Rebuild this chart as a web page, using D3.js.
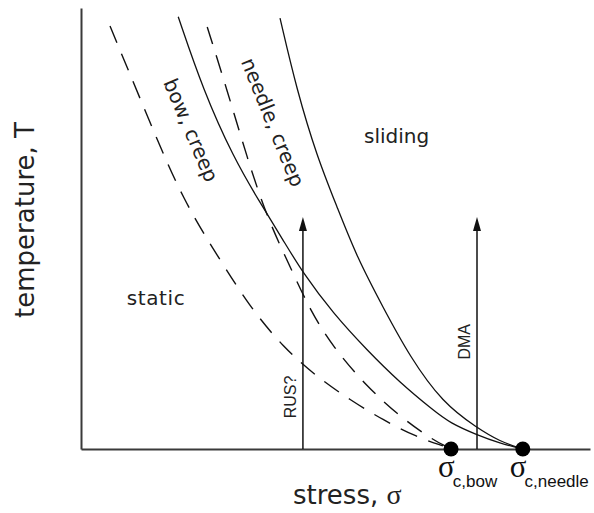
<!DOCTYPE html>
<html>
<head>
<meta charset="utf-8">
<script src="https://cdn.jsdelivr.net/npm/d3@7"></script>
<style>
  html, body { margin: 0; padding: 0; background: #fff; }
  svg { display: block; }
</style>
</head>
<body>
<svg id="chart" width="594" height="513"></svg>
<script>
// Schematic stress–temperature diagram (arbitrary units, 0–100 on both axes)

// Dashed boundaries, both ending at the bow critical stress
const dashedOuter = [
  [5.7, 95.9], [13.6, 73.9], [20.0, 56.5], [27.3, 42.9], [33.2, 32.2],
  [39.7, 23.1], [46.4, 16.3], [52.9, 11.1], [59.3, 6.6], [66.0, 2.7], [71.1, 0.7]
];
const dashedInner = [
  [24.8, 95.7], [28.7, 81.4], [32.6, 66.2], [36.5, 52.6], [41.1, 41.3],
  [45.0, 31.5], [49.5, 23.1], [56.2, 14.1], [62.7, 7.3], [69.2, 2.0], [71.9, 0.5]
];
// Solid boundaries, both ending at the needle critical stress
const solidBow = [
  [19.1, 98.0], [24.0, 81.4], [29.9, 66.2], [35.2, 55.8], [39.7, 47.4],
  [43.6, 39.9], [49.5, 30.8], [56.2, 22.4], [62.7, 15.0], [69.2, 8.8],
  [72.5, 5.9], [77.8, 3.2], [82.3, 1.3], [86.8, 0.0]
];
const solidNeedle = [
  [39.1, 97.7], [42.4, 81.4], [46.4, 66.2], [50.3, 54.9], [54.2, 43.5],
  [59.3, 32.2], [64.6, 20.9], [71.1, 10.4], [77.8, 4.8], [82.3, 1.7], [86.8, 0.0]
];

// Critical stresses marked on the stress axis
const criticalNames = ["c,bow", "c,needle"];
const criticalStress = [72.7, 86.8];

// Measurement paths (vertical arrows at fixed stress)
const probeNames = ["RUS?", "DMA"];
const probeStress = [43.6, 77.8];
const probeTop = [52.6, 52.6];

// Region labels
const regionNames = ["sliding", "static"];
const regionAt = [[55.6, 69.4], [9.0, 32.7]];
const bandNames = ["bow, creep", "needle, creep"];
const bandAt = [[21.6, 72.3], [37.7, 74.1]];
const bandAngle = [67, 68];

const svg = d3.select("#chart");
const x = d3.scaleLinear().domain([0, 100]).range([81, 590]);
const y = d3.scaleLinear().domain([0, 100]).range([449, 8]);

const sans = "'DejaVu Sans', sans-serif";

// Axes: bare lines, no ticks
const axisStyle = g => g.select(".domain").attr("stroke", "#3a3a3a").attr("stroke-width", 2);
svg.append("g")
  .attr("transform", `translate(0,${y(0)})`)
  .call(d3.axisBottom(x).tickValues([]).tickSizeOuter(0))
  .call(axisStyle);
svg.append("g")
  .attr("transform", `translate(${x(0)},0)`)
  .call(d3.axisLeft(y).tickValues([]).tickSizeOuter(0))
  .call(axisStyle);

// Boundary curves
const line = d3.line().x(d => x(d[0])).y(d => y(d[1])).curve(d3.curveBasis);
[dashedOuter, dashedInner].forEach(data => {
  svg.append("path").attr("d", line(data)).attr("fill", "none")
    .attr("stroke", "#111").attr("stroke-width", 1.4).attr("stroke-dasharray", "18,12");
});
[solidBow, solidNeedle].forEach(data => {
  svg.append("path").attr("d", line(data)).attr("fill", "none")
    .attr("stroke", "#111").attr("stroke-width", 1.3);
});

// Vertical arrows
probeStress.forEach((s, i) => {
  const px = x(s), top = y(probeTop[i]);
  svg.append("line").attr("x1", px).attr("x2", px).attr("y1", y(0)).attr("y2", top + 8)
    .attr("stroke", "#111").attr("stroke-width", 1.5);
  svg.append("path")
    .attr("d", `M${px},${top}L${px - 4},${top + 14}L${px + 4},${top + 14}Z`)
    .attr("fill", "#111");
});
const probeLabelAt = [[41.1, 11.8], [75.4, 24.3]];
probeNames.forEach((name, i) => {
  const [lx, ly] = probeLabelAt[i];
  svg.append("text")
    .attr("transform", `translate(${x(lx)},${y(ly)}) rotate(-90)`)
    .attr("text-anchor", "middle").attr("dominant-baseline", "central")
    .attr("font-family", "'Liberation Sans', Arial, sans-serif").attr("font-size", 16)
    .attr("fill", "#222").text(name);
});

// Critical stress points and labels
criticalStress.forEach((s, i) => {
  svg.append("circle").attr("cx", x(s)).attr("cy", y(0)).attr("r", 7.5).attr("fill", "#000");
  const t = svg.append("text").attr("x", x(s) - 13).attr("y", 477).attr("fill", "#111");
  t.append("tspan").attr("font-family", "'Liberation Serif', 'Times New Roman', serif")
    .attr("font-size", 31).text("σ");
  t.append("tspan").attr("font-family", "'Liberation Sans', Arial, sans-serif")
    .attr("font-size", 17).attr("dy", 10).attr("dx", -2).text(criticalNames[i]);
});

// Region labels
regionNames.forEach((name, i) => {
  svg.append("text").attr("x", x(regionAt[i][0])).attr("y", y(regionAt[i][1]))
    .attr("font-family", sans).attr("font-size", 20).attr("fill", "#222")
    .attr("letter-spacing", i === 1 ? 0.6 : 0)
    .text(name);
});
bandNames.forEach((name, i) => {
  svg.append("text")
    .attr("transform", `translate(${x(bandAt[i][0])},${y(bandAt[i][1])}) rotate(${bandAngle[i]})`)
    .attr("text-anchor", "middle").attr("dominant-baseline", "central")
    .attr("font-family", sans).attr("font-size", 20).attr("fill", "#222")
    .text(name);
});

// Axis titles
const xt = svg.append("text").attr("x", 293).attr("y", 504).attr("fill", "#222")
  .attr("font-family", sans).attr("font-size", 26);
xt.append("tspan").text("stress, ");
xt.append("tspan").attr("font-family", "'Liberation Serif', serif").attr("font-size", 28).text("σ");

svg.append("text")
  .attr("transform", "translate(34,220) rotate(-90)")
  .attr("text-anchor", "middle")
  .attr("font-family", sans).attr("font-size", 26).attr("fill", "#222")
  .text("temperature, T");
</script>
</body>
</html>
